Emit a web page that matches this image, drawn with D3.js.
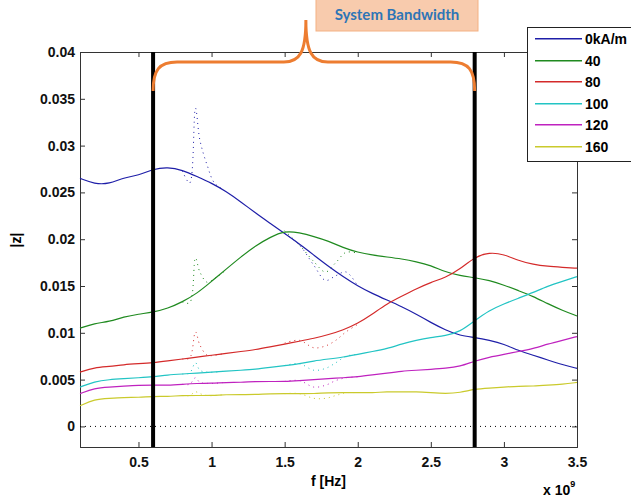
<!DOCTYPE html>
<html>
<head>
<meta charset="utf-8">
<script src="https://cdn.jsdelivr.net/npm/d3@7"></script>
<style>
  body { margin: 0; background: #fff; }
  svg { display: block; font-family: "Liberation Sans", Arial, sans-serif; }
  .axis text { font-size: 14px; font-weight: bold; fill: #111; }
  .axis path, .axis line { stroke: #333; }
</style>
</head>
<body>
<div id="chart"></div>
<script>
// frequency in GHz (axis shows x 10^9)
const freq = [0.1, 0.2, 0.3, 0.4, 0.5, 0.6, 0.7, 0.8, 0.9, 1.0, 1.1, 1.2, 1.3, 1.4, 1.5, 1.6, 1.7, 1.8,
  1.9, 2.0, 2.1, 2.2, 2.3, 2.4, 2.5, 2.6, 2.7, 2.8, 2.9, 3.0, 3.1, 3.2, 3.3, 3.4, 3.5];

const z0 = [0.0265, 0.0259, 0.0259, 0.0266, 0.0268, 0.0275, 0.0277, 0.0274, 0.0267, 0.0260, 0.0251, 0.0240,
  0.0228, 0.0217, 0.0206, 0.0195, 0.0183, 0.0171, 0.0160, 0.0150, 0.0142, 0.0135, 0.0128, 0.0120, 0.0111,
  0.0103, 0.0097, 0.0095, 0.0092, 0.0088, 0.0081, 0.0076, 0.0071, 0.0066, 0.0062];
const z40 = [0.0105, 0.0110, 0.0112, 0.0117, 0.0120, 0.0122, 0.0126, 0.0133, 0.0142, 0.0155, 0.0168, 0.0181,
  0.0193, 0.0202, 0.0209, 0.0207, 0.0203, 0.0198, 0.0191, 0.0186, 0.0183, 0.0181, 0.0179, 0.0176, 0.0172,
  0.0165, 0.0161, 0.0159, 0.0156, 0.0151, 0.0145, 0.0139, 0.0131, 0.0124, 0.0118];
const z80 = [0.0058, 0.0063, 0.0064, 0.0066, 0.0067, 0.0068, 0.0070, 0.0072, 0.0074, 0.0076, 0.0078, 0.0080,
  0.0082, 0.0085, 0.0088, 0.0091, 0.0094, 0.0098, 0.0103, 0.0110, 0.0120, 0.0131, 0.0139, 0.0147, 0.0154,
  0.0159, 0.0168, 0.0181, 0.0186, 0.0184, 0.0177, 0.0173, 0.0171, 0.0170, 0.0169];
const z100 = [0.0042, 0.0048, 0.0050, 0.0051, 0.0052, 0.0053, 0.0055, 0.0056, 0.0057, 0.0058, 0.0059, 0.0060,
  0.0061, 0.0063, 0.0065, 0.0067, 0.0070, 0.0072, 0.0074, 0.0077, 0.0080, 0.0083, 0.0088, 0.0092, 0.0095,
  0.0097, 0.0101, 0.0113, 0.0124, 0.0131, 0.0137, 0.0143, 0.0150, 0.0155, 0.0160];
const z120 = [0.0035, 0.0041, 0.0042, 0.0043, 0.0044, 0.0044, 0.0044, 0.0045, 0.0046, 0.0046, 0.0047, 0.0047,
  0.0048, 0.0048, 0.0048, 0.0049, 0.0050, 0.0051, 0.0052, 0.0053, 0.0055, 0.0057, 0.0059, 0.0060, 0.0061,
  0.0062, 0.0064, 0.0070, 0.0074, 0.0077, 0.0080, 0.0083, 0.0088, 0.0092, 0.0096];
const z160 = [0.0022, 0.0029, 0.0030, 0.0031, 0.0031, 0.0032, 0.0032, 0.0033, 0.0033, 0.0033, 0.0034, 0.0034,
  0.0034, 0.0035, 0.0035, 0.0035, 0.0035, 0.0036, 0.0036, 0.0036, 0.0036, 0.0037, 0.0037, 0.0037, 0.0036,
  0.0035, 0.0036, 0.0040, 0.0041, 0.0042, 0.0043, 0.0043, 0.0044, 0.0045, 0.0047];

const seriesNames = ['0kA/m', '40', '80', '100', '120', '160'];
const seriesColors = ['#1e1ea8', '#1f8a1f', '#d42a2a', '#22c4c4', '#bf22bf', '#caca2c'];
const seriesValues = [z0, z40, z80, z100, z120, z160];

// dotted traces, visible only where they leave the solid curves
const dotFreqA = [0.80, 0.85, 0.89, 0.92, 0.97, 1.02, 1.09];
const dotA = [
  [0.0273, 0.0260, 0.0340, 0.0306, 0.0279, 0.0260, 0.0252],
  [0.0133, 0.0132, 0.0180, 0.0165, 0.0154, 0.0158, 0.0166],
  [0.0072, 0.0073, 0.0101, 0.0087, 0.0076, 0.0076, 0.0078],
  [0.0056, 0.0057, 0.0068, 0.0060, 0.0058, 0.0058, 0.0059],
  [0.0045, 0.0045, 0.0052, 0.0047, 0.0046, 0.0046, 0.0047],
  [0.0033, 0.0033, 0.0037, 0.0035, 0.0033, 0.0033, 0.0034]
];
const dotFreqB = [1.50, 1.60, 1.70, 1.78, 1.85, 1.92, 2.00];
const dotB = [
  [0.0206, 0.0194, 0.0172, 0.0156, 0.0161, 0.0165, 0.0150],
  [0.0209, 0.0194, 0.0176, 0.0165, 0.0175, 0.0186, 0.0185],
  [0.0089, 0.0092, 0.0084, 0.0086, 0.0092, 0.0101, 0.0109],
  [0.0065, 0.0067, 0.0060, 0.0062, 0.0068, 0.0075, 0.0077],
  [0.0048, 0.0049, 0.0042, 0.0044, 0.0049, 0.0052, 0.0053],
  [0.0035, 0.0035, 0.0030, 0.0030, 0.0033, 0.0036, 0.0036]
];

const xTicks = [0.5, 1, 1.5, 2, 2.5, 3, 3.5];
const yTicks = [0, 0.005, 0.01, 0.015, 0.02, 0.025, 0.03, 0.035, 0.04];
const bandwidth = [0.6, 2.8];

const width = 631;
const height = 498;
const plotLeft = 80, plotRight = 577, plotTop = 52, plotBottom = 447;

let svg = d3.select('#chart').append('svg')
  .attr('width', width)
  .attr('height', height)

let x = d3.scaleLinear().domain([0.1, 3.5]).range([plotLeft, plotRight])
let y = d3.scaleLinear().domain([-0.0022, 0.04]).range([plotBottom, plotTop])

let fmt = d => d === 0 ? '0' : String(+d.toFixed(3))

// box and inward ticks
svg.append('g')
  .classed('axis', true)
  .attr('transform', `translate(0, ${plotBottom})`)
  .call(d3.axisBottom(x).tickValues(xTicks).tickSize(-5).tickPadding(10).tickFormat(fmt))
svg.append('g')
  .classed('axis', true)
  .attr('transform', `translate(0, ${plotTop})`)
  .call(d3.axisTop(x).tickValues(xTicks).tickSize(-5).tickFormat(''))
svg.append('g')
  .classed('axis', true)
  .attr('transform', `translate(${plotLeft}, 0)`)
  .call(d3.axisLeft(y).tickValues(yTicks).tickSize(-5).tickPadding(5).tickFormat(fmt))
svg.append('g')
  .classed('axis', true)
  .attr('transform', `translate(${plotRight}, 0)`)
  .call(d3.axisRight(y).tickValues(yTicks).tickSize(-5).tickFormat(''))

svg.selectAll('.axis .domain').attr('stroke', '#333')

// zero line
svg.append('line')
  .attr('x1', plotLeft).attr('x2', plotRight)
  .attr('y1', y(0)).attr('y2', y(0))
  .attr('stroke', '#000')
  .attr('stroke-dasharray', '1,4')

let line = (fs, curve) => d3.line()
  .x((d, i) => x(fs[i]))
  .y(d => y(d))
  .curve(curve)

// dotted traces
dotA.forEach((vals, k) => {
  svg.append('path')
    .attr('d', line(dotFreqA, d3.curveCatmullRom)(vals))
    .attr('fill', 'none')
    .attr('stroke', seriesColors[k])
    .attr('stroke-width', 1)
    .attr('stroke-dasharray', '1,4')
})
dotB.forEach((vals, k) => {
  svg.append('path')
    .attr('d', line(dotFreqB, d3.curveCatmullRom)(vals))
    .attr('fill', 'none')
    .attr('stroke', seriesColors[k])
    .attr('stroke-width', 1)
    .attr('stroke-dasharray', '1,4')
})

seriesValues.forEach((vals, k) => {
  svg.append('path')
    .attr('d', line(freq, d3.curveBasis)(vals))
    .attr('fill', 'none')
    .attr('stroke', seriesColors[k])
    .attr('stroke-width', 1.2)
})

// bandwidth markers
bandwidth.forEach(f => {
  svg.append('line')
    .attr('x1', x(f)).attr('x2', x(f))
    .attr('y1', plotTop).attr('y2', plotBottom)
    .attr('stroke', '#000')
    .attr('stroke-width', 4)
})

// curly bracket over the band
let bx0 = x(bandwidth[0]), bx1 = x(bandwidth[1]);
let mid = (bx0 + bx1) / 2 - 8;
let by = 62, tipY = 20, endY = 91;
svg.append('path')
  .attr('d', `M${bx0},${endY} C${bx0},${by + 8} ${bx0 + 6},${by} ${bx0 + 24},${by}
    L${mid - 22},${by} C${mid - 6},${by} ${mid},${by - 10} ${mid},${tipY}
    C${mid},${by - 10} ${mid + 6},${by} ${mid + 22},${by}
    L${bx1 - 24},${by} C${bx1 - 6},${by} ${bx1},${by + 8} ${bx1},${endY}`)
  .attr('fill', 'none')
  .attr('stroke', '#ed7d31')
  .attr('stroke-width', 3)

svg.append('rect')
  .attr('x', 316).attr('y', -2)
  .attr('width', 162).attr('height', 33)
  .attr('fill', '#f8cbad')
  .attr('stroke', '#f4b183')
svg.append('text')
  .attr('x', 397).attr('y', 20)
  .attr('text-anchor', 'middle')
  .style('font-family', 'Lato, "Open Sans", sans-serif')
  .style('font-weight', 'bold')
  .style('font-size', '15px')
  .attr('fill', '#2e75b6')
  .text('System Bandwidth')

// axis titles
svg.append('text')
  .attr('x', (plotLeft + plotRight) / 2).attr('y', 486)
  .attr('text-anchor', 'middle')
  .style('font-size', '14px').style('font-weight', 'bold')
  .text('f [Hz]')
let sci = svg.append('text')
  .attr('x', 543).attr('y', 495)
  .style('font-size', '14px').style('font-weight', 'bold')
sci.append('tspan').text('x 10')
sci.append('tspan').attr('dy', -8).style('font-size', '9px').text('9')

svg.append('text')
  .attr('transform', 'translate(21, 240) rotate(-90)')
  .attr('text-anchor', 'middle')
  .style('font-size', '14px').style('font-weight', 'bold')
  .text('|z|')

// legend
let legend = svg.append('g')
legend.append('rect')
  .attr('x', 527.5).attr('y', 27.5)
  .attr('width', 120).attr('height', 134)
  .attr('fill', '#fff')
  .attr('stroke', '#222')
seriesNames.forEach((name, i) => {
  let ly = Math.round(39 + i * 21.5);
  legend.append('rect')
    .attr('x', 535).attr('y', ly - 1)
    .attr('width', 47).attr('height', 1.5)
    .attr('fill', seriesColors[i])
  legend.append('text')
    .attr('x', 585).attr('y', ly + 5)
    .style('font-size', '14px').style('font-weight', 'bold')
    .text(name)
})
</script>
</body>
</html>
